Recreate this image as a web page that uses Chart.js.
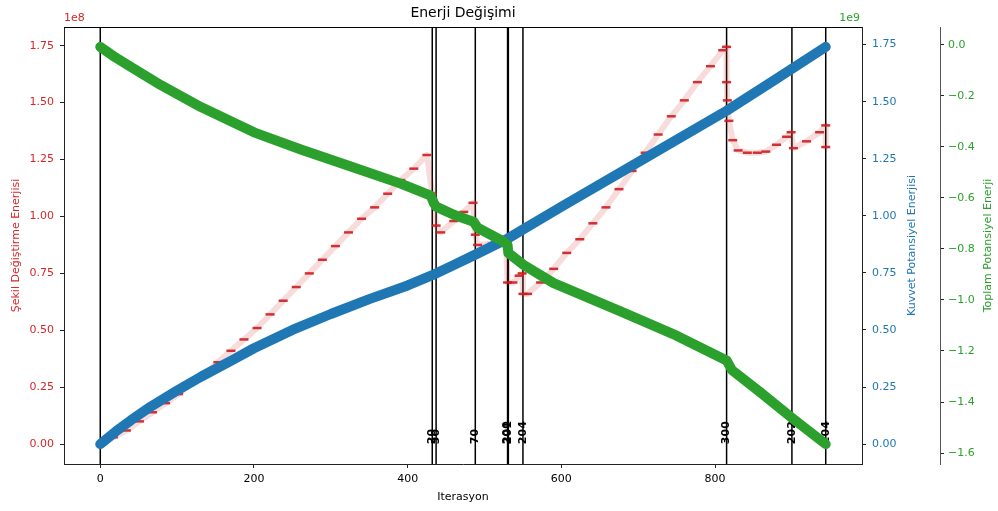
<!DOCTYPE html>
<html>
<head>
<meta charset="utf-8">
<script src="https://cdn.jsdelivr.net/npm/chart.js@4.4.1/dist/chart.umd.min.js"></script>
<style>
  html, body { margin: 0; padding: 0; background: #fff; }
</style>
</head>
<body>
<canvas id="energyChart" width="998" height="511"></canvas>
<script>
// Şekil Değiştirme Enerjisi (x1e8), staircase
const redIter = [0, 17, 34, 51, 68, 85, 102, 119, 136, 153, 170, 187, 204, 221, 238, 255, 272, 289, 306, 323, 340, 357, 374, 391, 408, 425,
  432, 437, 443, 460, 473, 485,
  488, 491, 510, 528,
  530, 537, 545, 549,
  550, 556, 573, 590, 607, 624, 641, 658, 675, 692, 709, 726, 743, 760, 777, 794, 810, 815,
  815, 816, 818, 823, 830, 842, 855, 866, 880, 893, 899,
  902, 919, 936, 944, 944];
const redVal = [0.00, 0.03, 0.06, 0.10, 0.14, 0.18, 0.22, 0.27, 0.31, 0.36, 0.41, 0.46, 0.51, 0.57, 0.63, 0.69, 0.75, 0.81, 0.87, 0.93, 0.99, 1.04, 1.10, 1.16, 1.21, 1.27,
  1.10, 0.96, 0.93, 0.98, 1.02, 1.06,
  0.92, 0.875, 0.88, 0.89,
  0.71, 0.71, 0.74, 0.75,
  0.66, 0.66, 0.71, 0.77, 0.84, 0.90, 0.97, 1.04, 1.12, 1.20, 1.28, 1.36, 1.44, 1.51, 1.59, 1.66, 1.73, 1.745,
  1.59, 1.51, 1.42, 1.335, 1.29, 1.28, 1.28, 1.285, 1.315, 1.35, 1.37,
  1.30, 1.33, 1.37, 1.40, 1.305];

// Kuvvet Potansiyel Enerjisi (x1e9)
const blueIter = [0, 20, 40, 66, 100, 131, 170, 200, 250, 300, 350, 400, 432, 460, 488, 530, 600, 700, 815, 880, 944];
const blueVal = [0, 0.055, 0.105, 0.165, 0.235, 0.295, 0.365, 0.42, 0.50, 0.57, 0.635, 0.695, 0.74, 0.785, 0.83, 0.90, 1.04, 1.235, 1.46, 1.60, 1.74];

// Toplam Potansiyel Enerji (x1e9)
const greenIter = [0, 20, 40, 79, 131, 200, 261, 326, 391, 430, 434, 437, 460, 486, 491, 521, 530, 531, 551, 590, 677, 750, 815, 822, 858, 900, 944];
const greenVal = [-0.008, -0.05, -0.087, -0.158, -0.244, -0.343, -0.41, -0.477, -0.544, -0.591, -0.62, -0.634, -0.666, -0.694, -0.717, -0.765, -0.784, -0.816, -0.863, -0.934, -1.045, -1.14, -1.237, -1.275, -1.36, -1.462, -1.565];

// marked iterations (vertical lines) and their labels
const markIter = [0, 432, 437, 488, 530, 531, 550, 815, 900, 944];
const markLabel = ["", "20", "30", "70", "200", "201", "204", "300", "202", "204"];

const xTicks = [0, 200, 400, 600, 800];
const redTicks = [0, 0.25, 0.5, 0.75, 1.0, 1.25, 1.5, 1.75];
const blueTicks = [0, 0.25, 0.5, 0.75, 1.0, 1.25, 1.5, 1.75];
const greenTicks = [0, -0.2, -0.4, -0.6, -0.8, -1.0, -1.2, -1.4, -1.6];

const RED = "#d62728", BLUE = "#1f77b4", GREEN = "#2ca02c";
const FONT = "DejaVu Sans";

const toPoints = (xs, ys) => xs.map((x, i) => ({ x: x, y: ys[i] }));

// vertical lines + their rotated labels, drawn under the series
const markerPlugin = {
  id: "markers",
  beforeDatasetsDraw(chart) {
    const { ctx, chartArea, scales } = chart;
    const y0 = scales.y.getPixelForValue(0);
    ctx.save();
    ctx.strokeStyle = "#000";
    ctx.lineWidth = 1.5;
    markIter.forEach((it, i) => {
      const px = scales.x.getPixelForValue(it);
      ctx.beginPath();
      ctx.moveTo(px, chartArea.top);
      ctx.lineTo(px, chartArea.bottom);
      ctx.stroke();
      if (markLabel[i]) {
        ctx.save();
        ctx.translate(px, y0);
        ctx.rotate(-Math.PI / 2);
        ctx.font = "bold 11px '" + FONT + "'";
        ctx.fillStyle = "#000";
        ctx.textAlign = "left";
        ctx.textBaseline = "middle";
        ctx.fillText(markLabel[i], 0, 0);
        ctx.restore();
      }
    });
    ctx.restore();
  },
  afterDraw(chart) {
    const { ctx, chartArea } = chart;
    const midX = (chartArea.left + chartArea.right) / 2;
    const midY = (chartArea.top + chartArea.bottom) / 2;
    ctx.save();
    // top spine
    ctx.strokeStyle = "#000";
    ctx.lineWidth = 1;
    ctx.beginPath();
    ctx.moveTo(chartArea.left, chartArea.top + 0.5);
    ctx.lineTo(chartArea.right, chartArea.top + 0.5);
    ctx.stroke();

    ctx.textBaseline = "middle";
    ctx.font = "14px '" + FONT + "'";
    ctx.fillStyle = "#000";
    ctx.textAlign = "center";
    ctx.fillText("Enerji Değişimi", midX, 13);

    ctx.font = "11px '" + FONT + "'";
    ctx.fillText("Iterasyon", midX, 497);

    ctx.textAlign = "left";
    ctx.fillStyle = RED;
    ctx.fillText("1e8", 64, 18);
    ctx.textAlign = "right";
    ctx.fillStyle = GREEN;
    ctx.fillText("1e9", 860, 18);

    const sideTitle = (text, x, color) => {
      ctx.save();
      ctx.translate(x, midY);
      ctx.rotate(-Math.PI / 2);
      ctx.textAlign = "center";
      ctx.fillStyle = color;
      ctx.fillText(text, 0, 0);
      ctx.restore();
    };
    sideTitle("Şekil Değiştirme Enerjisi", 16, RED);
    sideTitle("Kuvvet Potansiyel Enerjisi", 912, BLUE);
    sideTitle("Toplam Potansiyel Enerji", 988, GREEN);
    ctx.restore();
  }
};

const axisGrid = { drawOnChartArea: false, drawTicks: true, tickLength: 4, tickColor: "#222", tickWidth: 1 };
const axisBorder = { display: true, color: "#222", width: 1 };

const ctx = document.getElementById("energyChart").getContext("2d");
const chart = new Chart(ctx, {
  type: "line",
  data: {
    datasets: [
      {
        label: "Toplam Potansiyel Enerji",
        data: toPoints(greenIter, greenVal),
        yAxisID: "y2",
        borderColor: GREEN,
        borderWidth: 10,
        borderCapStyle: "round",
        borderJoinStyle: "round",
        pointRadius: 0,
        tension: 0,
      },
      {
        label: "Kuvvet Potansiyel Enerjisi",
        data: toPoints(blueIter, blueVal),
        yAxisID: "y1",
        borderColor: BLUE,
        borderWidth: 10,
        borderCapStyle: "round",
        borderJoinStyle: "round",
        pointRadius: 0,
        tension: 0,
      },
      {
        label: "Şekil Değiştirme Enerjisi",
        data: toPoints(redIter, redVal),
        yAxisID: "y",
        borderColor: "rgba(214, 39, 40, 0.16)",
        borderWidth: 6,
        borderCapStyle: "round",
        borderJoinStyle: "round",
        pointStyle: "line",
        pointRadius: 4.5,
        pointBorderWidth: 2.5,
        pointBorderColor: "rgba(205, 30, 32, 0.9)",
        pointBackgroundColor: "rgba(205, 30, 32, 0.9)",
        tension: 0,
      },
    ],
  },
  options: {
    responsive: false,
    animation: false,
    events: [],
    layout: { padding: { top: 27, left: 0, right: 0, bottom: 0 } },
    plugins: { legend: { display: false }, tooltip: { enabled: false }, title: { display: false } },
    scales: {
      x: {
        type: "linear",
        min: -47.2,
        max: 991.2,
        afterBuildTicks: (s) => { s.ticks = xTicks.map((v) => ({ value: v })); },
        afterFit: (s) => { s.height = 47; },
        grid: axisGrid,
        border: axisBorder,
        ticks: { autoSkip: false, maxRotation: 0, padding: 5, color: "#000", font: { family: FONT, size: 11 }, callback: (v) => String(v) },
      },
      y: {
        position: "left",
        min: -0.0872,
        max: 1.8322,
        afterBuildTicks: (s) => { s.ticks = redTicks.map((v) => ({ value: v })); },
        afterFit: (s) => { s.width = 64; },
        grid: axisGrid,
        border: axisBorder,
        ticks: { autoSkip: false, padding: 6, color: RED, font: { family: FONT, size: 11 }, callback: (v) => v.toFixed(2) },
      },
      y1: {
        position: "right",
        weight: 0,
        min: -0.087,
        max: 1.827,
        afterBuildTicks: (s) => { s.ticks = blueTicks.map((v) => ({ value: v })); },
        afterFit: (s) => { s.width = 78; },
        grid: axisGrid,
        border: axisBorder,
        ticks: { autoSkip: false, padding: 6, color: BLUE, font: { family: FONT, size: 11 }, callback: (v) => v.toFixed(2) },
      },
      y2: {
        position: "right",
        weight: 1,
        min: -1.643,
        max: 0.070,
        afterBuildTicks: (s) => { s.ticks = greenTicks.map((v) => ({ value: v })); },
        afterFit: (s) => { s.width = 58; },
        grid: axisGrid,
        border: { display: true, color: "#555", width: 1 },
        ticks: { autoSkip: false, padding: 4, color: GREEN, font: { family: FONT, size: 11 },
          callback: (v) => (Math.abs(v) < 1e-9 ? "0.0" : "\u2212" + Math.abs(v).toFixed(1)) },
      },
    },
  },
  plugins: [markerPlugin],
});
</script>
</body>
</html>
